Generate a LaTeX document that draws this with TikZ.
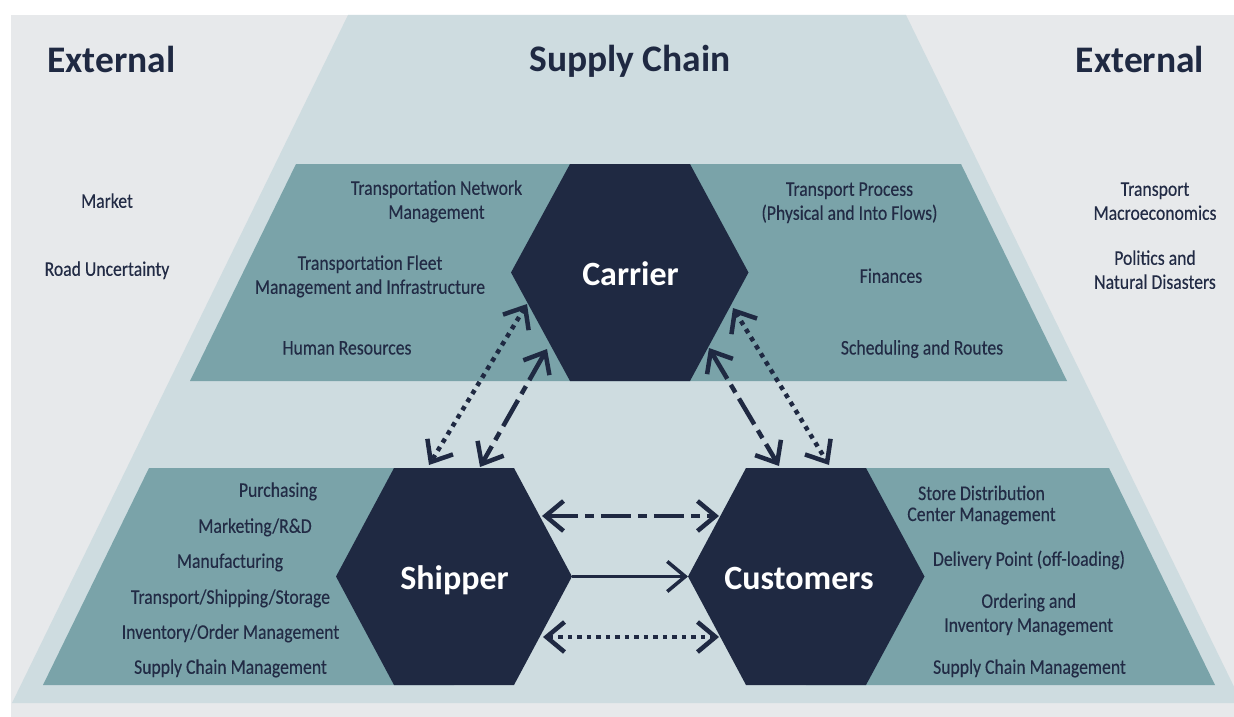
\documentclass[tikz,border=0pt]{standalone}
\usepackage{fontspec}
\setmainfont{Carlito}
\newfontfamily\bodyfont[FakeStretch=0.85,FakeBold=0.25]{Carlito}
\usetikzlibrary{arrows.meta}
\definecolor{bggray}{HTML}{E7E9EB}
\definecolor{scblue}{HTML}{CEDCE0}
\definecolor{tealbox}{HTML}{7AA3A9}
\definecolor{navy}{HTML}{1F2942}
\definecolor{txt}{HTML}{222B45}
\begin{document}
\begin{tikzpicture}[x=1pt,y=-1pt,
  lbl/.style={font=\bodyfont\fontsize{20.8}{24}\selectfont, text=txt, align=center, inner sep=0pt},
  ttl/.style={font=\bfseries\fontsize{37.5}{40}\selectfont, text=navy, inner sep=0pt, anchor=base},
  hexlbl/.style={font=\bfseries\fontsize{34}{38}\selectfont, text=white, inner sep=0pt, anchor=base},
  barb/.tip={Straight Barb[length=18pt,width=30pt]},
  link/.style={draw=navy, line width=4.5pt, barb-barb},
  dotlink/.style={link, dash pattern=on 4.5pt off 5pt},
  dashlink/.style={link, dash pattern=on 30pt off 7pt on 9pt off 7pt},
  solidlink/.style={draw=navy, line width=3.5pt, -barb}
]
\useasboundingbox (0,0) rectangle (1234,717);
\fill[white] (0,0) rectangle (1234,717);
\fill[bggray] (11,15) rectangle (1234,717);
\begin{scope}
\clip (0,0) rectangle (1234,717);
\fill[scblue] (348,15) -- (906,15) -- (1242,703) -- (12,703) -- cycle;
\end{scope}
% teal bands
\fill[tealbox] (296,164) -- (961,164) -- (1067,381) -- (190,381) -- cycle;
\fill[tealbox] (149,468) -- (454,468) -- (454,685) -- (43,685) -- cycle;
\fill[tealbox] (806,468) -- (1109,468) -- (1215,685) -- (806,685) -- cycle;
% hexagons
\fill[navy] (511,272.5) -- (570,164) -- (690,164) -- (748.5,272.5) -- (690,381) -- (570,381) -- cycle;
\fill[navy] (336,576.5) -- (394,468) -- (514,468) -- (572,576.5) -- (514,685) -- (394,685) -- cycle;
\fill[navy] (688,576.5) -- (746,468) -- (866,468) -- (924.5,576.5) -- (866,685) -- (746,685) -- cycle;
% titles
\node[ttl] (ext1) at (111.5,72.3) {External};
\node[ttl] (sc) at (630,71.7) {Supply Chain};
\node[ttl] (ext2) at (1140,72.3) {External};
% hex labels
\node[hexlbl] (carrier) at (630.5,285) {Carrier};
\node[hexlbl] (shipper) at (454.5,589) {Shipper};
\node[hexlbl] (customers) at (799,589) {Customers};
% external factors
\node[lbl] (market) at (107,203) {\strut Market};
\node[lbl] (road) at (107,271) {\strut Road Uncertainty};
\node[lbl] (tmacro) at (1155,203) {\strut Transport\\\strut Macroeconomics};
\node[lbl] (politics) at (1155,272) {\strut Politics and\\\strut Natural Disasters};
% carrier items
\node[lbl] (tnm) at (436.5,202) {\strut Transportation Network\\\strut Management};
\node[lbl] (tfm) at (370,277) {\strut Transportation Fleet\\\strut Management and Infrastructure};
\node[lbl] (hr) at (347,349.7) {\strut Human Resources};
\node[lbl] (tp) at (849.5,203) {\strut Transport Process\\\strut (Physical and Into Flows)};
\node[lbl] (fin) at (891,278) {\strut Finances};
\node[lbl] (sched) at (922,349.7) {\strut Scheduling and Routes};
% shipper items
\node[lbl] (purch) at (278,492) {\strut Purchasing};
\node[lbl] (mrd) at (255,528) {\strut Marketing/R\&D};
\node[lbl] (manu) at (230,563) {\strut Manufacturing};
\node[lbl] (tss) at (230.5,599) {\strut Transport/Shipping/Storage};
\node[lbl] (iom) at (230.5,634) {\strut Inventory/Order Management};
\node[lbl] (scm1) at (230.5,669) {\strut Supply Chain Management};
% customer items
\node[lbl] (sdc) at (981.5,505.7) {\strut Store Distribution\\[-3pt]\strut Center Management};
\node[lbl] (dp) at (1029,561) {\strut Delivery Point (off-loading)};
\node[lbl] (oim) at (1028.7,615) {\strut Ordering and\\\strut Inventory Management};
\node[lbl] (scm2) at (1029.5,669) {\strut Supply Chain Management};
% connector end points on the hexagon borders
\coordinate (csA1) at (527,304);  \coordinate (csB1) at (429,465);
\coordinate (csA2) at (547,349);  \coordinate (csB2) at (480,467);
\coordinate (ccA2) at (709,348);  \coordinate (ccB2) at (779,466);
\coordinate (ccA1) at (733,308);  \coordinate (ccB1) at (829,465);
\coordinate (scA1) at (542,516);  \coordinate (scB1) at (719,516);
\coordinate (scA2) at (572,576.5);\coordinate (scB2) at (688,576.5);
\coordinate (scA3) at (543,637);  \coordinate (scB3) at (719,637);
% connectors
\draw[dotlink] (csA1) -- (csB1);
\draw[dashlink] (csA2) -- (csB2);
\draw[dashlink] (ccA2) -- (ccB2);
\draw[dotlink] (ccA1) -- (ccB1);
\draw[dashlink] (scA1) -- (scB1);
\draw[solidlink] (scA2) -- (scB2);
\draw[dotlink] (scA3) -- (scB3);
\end{tikzpicture}
\end{document}
